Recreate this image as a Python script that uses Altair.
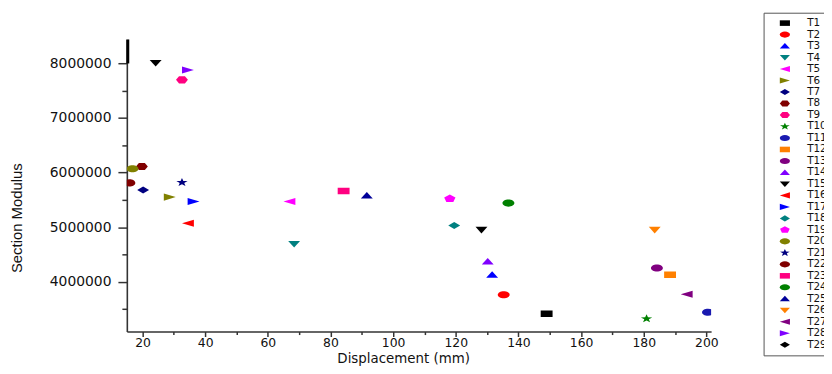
import altair as alt
import pandas as pd

# ---- data ----
series = ["T1", "T2", "T3", "T4", "T5", "T6", "T7", "T8", "T9", "T10",
          "T11", "T12", "T13", "T14", "T15", "T16", "T17", "T18", "T19", "T20",
          "T21", "T22", "T23", "T24", "T25", "T26", "T27", "T28", "T29"]

point_series = ["T1", "T2", "T3", "T4", "T5", "T6", "T7", "T8", "T9", "T10",
                "T11", "T12", "T13", "T14", "T15", "T15", "T16", "T17", "T18", "T19",
                "T20", "T21", "T22", "T23", "T24", "T25", "T26", "T27", "T28"]
displacement = [149.0, 135.3, 131.6, 68.4, 66.9, 28.7, 20.2, 19.8, 32.6, 180.9,
                200.5, 188.4, 184.2, 130.2, 128.2, 24.2, 34.5, 36.3, 119.5, 118.1,
                16.8, 32.6, 15.8, 84.2, 136.8, 91.6, 183.5, 193.7, 34.5]
section_modulus = [3410000, 3760000, 4125000, 4690000, 5470000, 5550000, 5680000, 6110000, 7700000, 3320000,
                   3440000, 4125000, 4250000, 4370000, 4950000, 8010000, 5070000, 5470000, 5030000, 5520000,
                   6070000, 5820000, 5810000, 5660000, 5440000, 5580000, 4950000, 3770000, 7880000]

x_ticks = [20, 30, 40, 50, 60, 70, 80, 90, 100, 110, 120, 130, 140, 150, 160, 170, 180, 190, 200]
y_ticks = [3500000, 4000000, 4500000, 5000000, 5500000, 6000000, 6500000, 7000000, 7500000, 8000000]

# short dark segment at the top of the y axis
bracket_x = [15.3]
bracket_y = [8000000]
bracket_y2 = [8440000]

# ---- styling ----
colors = ["#000000", "#FF0000", "#0000FF", "#008080", "#FF00FF", "#808000", "#000080", "#800000", "#FF0080", "#008000",
          "#1A1AB0", "#FF8000", "#800080", "#8000FF", "#000000", "#FF0000", "#0000FF", "#008080", "#FF00FF", "#808000",
          "#000080", "#800000", "#FF0080", "#008000", "#000099", "#FF8000", "#800080", "#8000FF", "#000000"]

SQUARE = "M-1,-0.55L1,-0.55L1,0.55L-1,0.55Z"
ELLIPSE = "M-1,0A1,0.6 0 1,1 1,0A1,0.6 0 1,1 -1,0Z"
TRI_UP = "M0,-0.6L1,0.5L-1,0.5Z"
TRI_DOWN = "M-1,-0.5L1,-0.5L0,0.6Z"
TRI_LEFT = "M-1,0L1,-0.6L1,0.6Z"
TRI_RIGHT = "M1,0L-1,-0.6L-1,0.6Z"
DIAMOND = "M0,-0.6L1,0L0,0.6L-1,0Z"
HEXAGON = "M-1,0L-0.5,-0.6L0.5,-0.6L1,0L0.5,0.6L-0.5,0.6Z"
PENTAGON = "M0,-0.7L0.951,-0.216L0.588,0.566L-0.588,0.566L-0.951,-0.216Z"
STAR = "M0,-0.75L0.235,-0.243L0.951,-0.232L0.38,0.093L0.588,0.607L0,0.3L-0.588,0.607L-0.38,0.093L-0.951,-0.232L-0.235,-0.243Z"

shapes = [SQUARE, ELLIPSE, TRI_UP, TRI_DOWN, TRI_LEFT, TRI_RIGHT, DIAMOND, HEXAGON, HEXAGON, STAR,
          ELLIPSE, SQUARE, ELLIPSE, TRI_UP, TRI_DOWN, TRI_LEFT, TRI_RIGHT, DIAMOND, PENTAGON, ELLIPSE,
          STAR, ELLIPSE, SQUARE, ELLIPSE, TRI_UP, TRI_DOWN, TRI_LEFT, TRI_RIGHT, DIAMOND]

df = pd.DataFrame({"series": point_series, "x": displacement, "y": section_modulus})
df_bracket = pd.DataFrame({"x": bracket_x, "y": bracket_y, "y2": bracket_y2})

LABEL_FONT = "DejaVu Sans"

x_scale = alt.Scale(domain=[15, 201.5], nice=False, zero=False)
y_scale = alt.Scale(domain=[3085000, 8440000], nice=False, zero=False)

x_axis = alt.Axis(
    title="Displacement (mm)", values=x_ticks, grid=False,
    labelExpr="datum.value % 20 === 0 ? datum.label : ''",
    tickSize={"condition": {"test": "datum.value % 20 === 0", "value": 5}, "value": 3},
    labelFont=LABEL_FONT, labelFontSize=12.5, labelColor="#111", labelPadding=0,
    labelFlush=False, labelOverlap=False,
    titleFont=LABEL_FONT, titleFontSize=13.5, titleFontWeight="normal", titleColor="#111",
    titleX=279, titleY=20, titleAlign="center",
    domainColor="#333", domainWidth=1.6, tickColor="#333", tickWidth=1.5,
)
y_axis = alt.Axis(
    title="Section Modulus", values=y_ticks, grid=False,
    labelExpr="datum.value % 1000000 === 0 ? format(datum.value, 'd') : ''",
    tickSize={"condition": {"test": "datum.value % 1000000 === 0", "value": 9}, "value": 5},
    labelFont=LABEL_FONT, labelFontSize=14, labelColor="#111", labelPadding=7,
    labelOverlap=False,
    titleFont="Liberation Sans", titleFontSize=15, titleFontWeight="normal", titleColor="#111",
    titleX=-103, titleY=180, titleAlign="center",
    domainColor="#333", domainWidth=1.6, tickColor="#333", tickWidth=1.5,
)

legend = alt.Legend(orient="none", legendX=643, legendY=-27, title=None,
                    direction="vertical", columns=1)

points = alt.Chart(df).mark_point(filled=True, size=144, opacity=1, strokeWidth=0, clip=True).encode(
    x=alt.X("x:Q", scale=x_scale, axis=x_axis),
    y=alt.Y("y:Q", scale=y_scale, axis=y_axis),
    color=alt.Color("series:N", scale=alt.Scale(domain=series, range=colors), legend=legend),
    shape=alt.Shape("series:N", scale=alt.Scale(domain=series, range=shapes), legend=legend),
)

bracket = alt.Chart(df_bracket).mark_rule(color="#000", strokeWidth=3).encode(
    x=alt.X("x:Q", scale=x_scale, axis=x_axis),
    y=alt.Y("y:Q", scale=y_scale, axis=y_axis),
    y2="y2:Q",
)

chart = alt.layer(points, bracket).properties(
    width=590, height=295,
    autosize=alt.AutoSizeParams(type="none"),
    padding={"left": 120, "top": 30, "right": 114, "bottom": 33},
    background="white",
).configure_view(strokeWidth=0).configure_legend(
    strokeColor="#555", fillColor="white", padding=5,
    symbolOffset=11, labelOffset=17, rowPadding=0.6,
    labelFont=LABEL_FONT, labelFontSize=10.5, labelColor="#111", labelLimit=0,
    symbolSize=105, symbolStrokeWidth=0,
)

chart.save("out.html", embed_options={"renderer": "svg", "actions": False})
